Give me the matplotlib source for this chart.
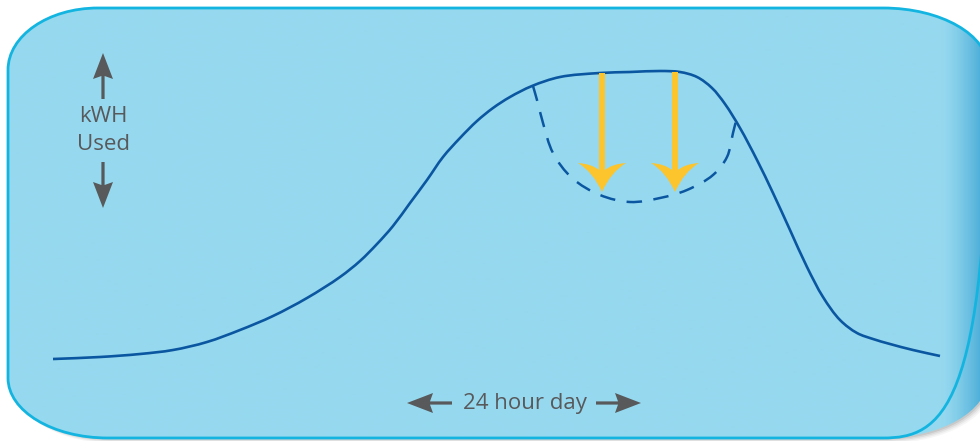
import numpy as np
import matplotlib.pyplot as plt
from matplotlib.path import Path
from matplotlib.patches import PathPatch, Polygon
import matplotlib.colors as mcolors

# load profile over a day (pixel space, y down)
curve_x = [53, 100, 140, 173, 207, 240, 273, 307, 340, 360, 377, 393, 410, 427,
           443, 460, 477, 493, 510, 532, 560, 600, 630, 660, 680, 697, 712, 725,
           740, 757, 773, 790, 807, 823, 840, 857, 873, 890, 913, 940]
curve_y = [359, 357, 354, 350, 342, 330, 316, 298, 277, 261, 244, 226, 203, 180,
           157, 138, 121, 108, 97, 86, 77, 73, 72, 71, 72, 77, 88, 104,
           128, 160, 193, 230, 267, 297, 320, 333, 339, 344, 350, 356]

# reduced peak (dashed)
dash_x = [533, 537, 543, 553, 572, 600, 630, 660, 687, 713, 727, 733, 736]
dash_y = [86, 100, 123, 153, 178, 195, 202, 198, 190, 175, 157, 133, 121]

# yellow reduction arrows
arrow_x = [602, 675]
arrow_top = [73, 72]
arrow_tip = 192

y_label = ["kWH", "Used"]
x_label = "24 hour day"

blue = "#0b56a0"
yellow = "#fcc42d"
gray = "#58595b"
fill = "#96d9ef"
edge = "#13b5e0"


def smooth_path(xs, ys):
    # centripetal catmull-rom turned into bezier segments
    p = np.column_stack([xs, ys]).astype(float)
    n = len(p)
    ext = np.vstack([2 * p[0] - p[1], p, 2 * p[-1] - p[-2]])
    pts = [p[0]]
    codes = [Path.MOVETO]
    for i in range(1, n):
        p0, p1, p2, p3 = ext[i - 1], ext[i], ext[i + 1], ext[i + 2]
        d1 = np.linalg.norm(p1 - p0) ** 0.5
        d2 = np.linalg.norm(p2 - p1) ** 0.5
        d3 = np.linalg.norm(p3 - p2) ** 0.5
        m1 = (p1 - p0) / d1 - (p2 - p0) / (d1 + d2) + (p2 - p1) / d2
        m2 = (p2 - p1) / d2 - (p3 - p1) / (d2 + d3) + (p3 - p2) / d3
        m1 *= d2
        m2 *= d2
        pts += [p1 + m1 / 3, p2 - m2 / 3, p2]
        codes += [Path.CURVE4] * 3
    return Path(pts, codes)


def panel_path(l, t, r, b):
    k = 0.5523
    v, c = [], []

    def ell(cx, cy, rx, ry, a0, a1):
        x0, y0 = cx + rx * np.cos(a0), cy + ry * np.sin(a0)
        x1, y1 = cx + rx * np.cos(a1), cy + ry * np.sin(a1)
        d0 = np.array([-np.sin(a0) * rx, np.cos(a0) * ry]) * k
        d1 = np.array([-np.sin(a1) * rx, np.cos(a1) * ry]) * k
        v.extend([(x0 + d0[0], y0 + d0[1]), (x1 - d1[0], y1 - d1[1]), (x1, y1)])
        c.extend([Path.CURVE4] * 3)
    h = np.pi / 2
    tl, tr, br, bl = (90, 62), (105, 60), (105, 60), (100, 60)
    v.append((l, t + tl[1])); c.append(Path.MOVETO)
    ell(l + tl[0], t + tl[1], tl[0], tl[1], np.pi, 1.5 * np.pi)
    v.append((r - tr[0], t)); c.append(Path.LINETO)
    ell(r - tr[0], t + tr[1], tr[0], tr[1], 1.5 * np.pi, 2 * np.pi)
    v.append((r, b - br[1])); c.append(Path.LINETO)
    ell(r - br[0], b - br[1], br[0], br[1], 0, h)
    v.append((l + bl[0], b)); c.append(Path.LINETO)
    ell(l + bl[0], b - bl[1], bl[0], bl[1], h, np.pi)
    v.append((l, t + tl[1])); c.append(Path.CLOSEPOLY)
    return Path(v, c)


def gray_arrow(ax, tail, tip, head_len=26, half_w=10, shaft=1.6):
    tail = np.array(tail, float)
    tip = np.array(tip, float)
    d = (tip - tail) / np.linalg.norm(tip - tail)
    nrm = np.array([-d[1], d[0]])
    base = tip - d * head_len
    notch = tip - d * (head_len - 3)
    ax.add_patch(Polygon([tail + nrm * shaft, notch + nrm * shaft,
                          base + nrm * half_w, tip, base - nrm * half_w,
                          notch - nrm * shaft, tail - nrm * shaft],
                         closed=True, fc=gray, ec="none", zorder=5))


def yellow_arrow(ax, x, top, tip):
    head_top = tip - 29
    notch = tip - 22
    w = 3
    ax.add_patch(Polygon([(x - w, top), (x + w, top), (x + w, notch),
                          (x - w, notch)], fc=yellow, ec="none", zorder=6))
    verts = [(x - w, notch), (x - 10, head_top + 1), (x - 24, head_top),
             (x - 9, head_top + 9), (x, tip),
             (x + 9, head_top + 9), (x + 24, head_top),
             (x + 10, head_top + 1), (x + w, notch), (x - w, notch)]
    codes = [Path.MOVETO, Path.CURVE3, Path.CURVE3, Path.CURVE3, Path.CURVE3,
             Path.CURVE3, Path.CURVE3, Path.CURVE3, Path.CURVE3, Path.CLOSEPOLY]
    ax.add_patch(PathPatch(Path(verts, codes), fc=yellow, ec="none", zorder=6))


fig = plt.figure(figsize=(9.8, 4.41), dpi=100)
ax = fig.add_axes([0, 0, 1, 1])
ax.set_xlim(0, 980)
ax.set_ylim(441, 0)
ax.axis("off")

panel = panel_path(8, 8, 988, 438)

# soft shadow
for i, a in enumerate([0.10, 0.08, 0.06, 0.04]):
    off = 1.5 + i * 1.2
    sh = Path(panel.vertices + np.array([off, off]), panel.codes)
    ax.add_patch(PathPatch(sh, fc="#303030", ec="none", alpha=a, zorder=0))

# panel fill with darker band on the right edge
cmap = mcolors.LinearSegmentedColormap.from_list("edge", [fill, "#3fa6d4"])
xs = np.arange(0, 990)
grad = np.clip((xs - 940) / 45.0, 0, 1) ** 1.4
im = ax.imshow(grad.reshape(1, -1), cmap=cmap, vmin=0, vmax=1,
               extent=[0, 990, 441, 0], aspect="auto", zorder=1,
               interpolation="bilinear")
im.set_clip_path(PathPatch(panel, transform=ax.transData))
ax.set_xlim(0, 980)
ax.set_ylim(441, 0)

ax.add_patch(PathPatch(panel, fc="none", ec=edge, lw=2, zorder=3))

ax.add_patch(PathPatch(smooth_path(curve_x, curve_y), fc="none", ec=blue,
                       lw=1.9, capstyle="butt", zorder=4))
ax.add_patch(PathPatch(smooth_path(dash_x, dash_y), fc="none", ec=blue,
                       lw=1.8, linestyle=(0, (6.2, 4.6)), capstyle="butt", zorder=4))

for x, top in zip(arrow_x, arrow_top):
    yellow_arrow(ax, x, top, arrow_tip)

font = dict(family=["Open Sans", "DejaVu Sans"], fontsize=16, color=gray)
ax.text(103, 117, y_label[0], ha="center", va="center", **font)
ax.text(103, 145, y_label[1], ha="center", va="center", **font)
gray_arrow(ax, (103, 99), (103, 53))
gray_arrow(ax, (103, 162), (103, 208))

ax.text(525, 403, x_label, ha="center", va="center", **font)
gray_arrow(ax, (452, 403), (407, 403))
gray_arrow(ax, (596, 403), (641, 403))

fig.savefig("out.png", dpi=100, facecolor="white")
